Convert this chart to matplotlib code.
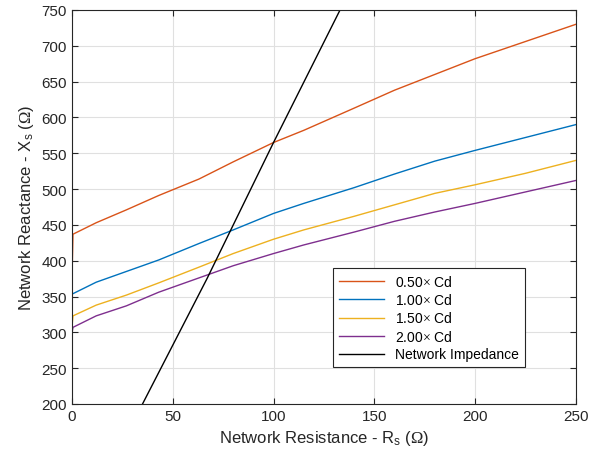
import numpy as np
import matplotlib
matplotlib.use("Agg")
import matplotlib.pyplot as plt

plt.rcParams['font.family'] = ['Liberation Sans', 'DejaVu Sans']
plt.rcParams['mathtext.fontset'] = 'custom'
plt.rcParams['mathtext.rm'] = 'Liberation Serif'
plt.rcParams['mathtext.sf'] = 'Liberation Sans'
plt.rcParams['mathtext.it'] = 'Liberation Sans'

# Network resistance samples (ohm)
rs = [0, 0.5, 12, 27, 43, 63, 80, 100, 115, 140, 160, 180, 200, 225, 250]

# Network reactance for each capacitance scaling
xs_050 = [375, 437, 453, 471, 491, 514, 538, 565, 582, 613, 638, 660, 682, 706, 730]
xs_100 = [354, 354, 370, 385, 401, 424, 443, 466, 480, 502, 521, 539, 554, 572, 590]
xs_150 = [308, 323, 338, 352, 369, 391, 410, 430, 443, 462, 478, 494, 506, 522, 540]
xs_200 = [299, 307, 323, 337, 356, 376, 393, 410, 422, 440, 455, 468, 480, 496, 512]

# Network impedance line
imp_rs = [35, 67, 100, 133]
imp_xs = [200, 375, 565, 750]

labels = [r"0.50$\times$ Cd", r"1.00$\times$ Cd", r"1.50$\times$ Cd", r"2.00$\times$ Cd"]
colors = ["#D95319", "#0072BD", "#EDB120", "#7E2F8E"]

fig = plt.figure(figsize=(5.9, 4.6), dpi=100)
ax = fig.add_axes([0.122, 0.1196, 0.854, 0.8565])

for ys, lab, c in zip([xs_050, xs_100, xs_150, xs_200], labels, colors):
    ax.plot(rs, ys, color=c, lw=1.0, label=lab)
ax.plot(imp_rs, imp_xs, color="black", lw=1.0, label="Network Impedance")

ax.set_xlim(0, 250)
ax.set_ylim(200, 750)
ax.set_xticks(np.arange(0, 251, 50))
ax.set_yticks(np.arange(200, 751, 50))
ax.grid(True, color="#e0e0e0", lw=0.8)
ax.set_axisbelow(True)
ax.tick_params(direction="in", top=True, right=True, labelsize=11, colors="#262626", length=4.5)
for s in ax.spines.values():
    s.set_color("#262626")
    s.set_linewidth(0.8)

ax.set_xlabel(r"Network Resistance - R$_{\mathsf{s}}$ ($\Omega$)", fontsize=12, color="#262626")
ax.set_ylabel(r"Network Reactance - X$_{\mathsf{s}}$ ($\Omega$)", fontsize=12, color="#262626")

leg = ax.legend(loc="lower left", bbox_to_anchor=(0.518, 0.094), fontsize=10,
                fancybox=False, edgecolor="#262626", framealpha=1,
                handlelength=3.3, borderaxespad=0, labelspacing=0.25)
leg.get_frame().set_linewidth(0.8)

fig.savefig("out.png", dpi=100)
